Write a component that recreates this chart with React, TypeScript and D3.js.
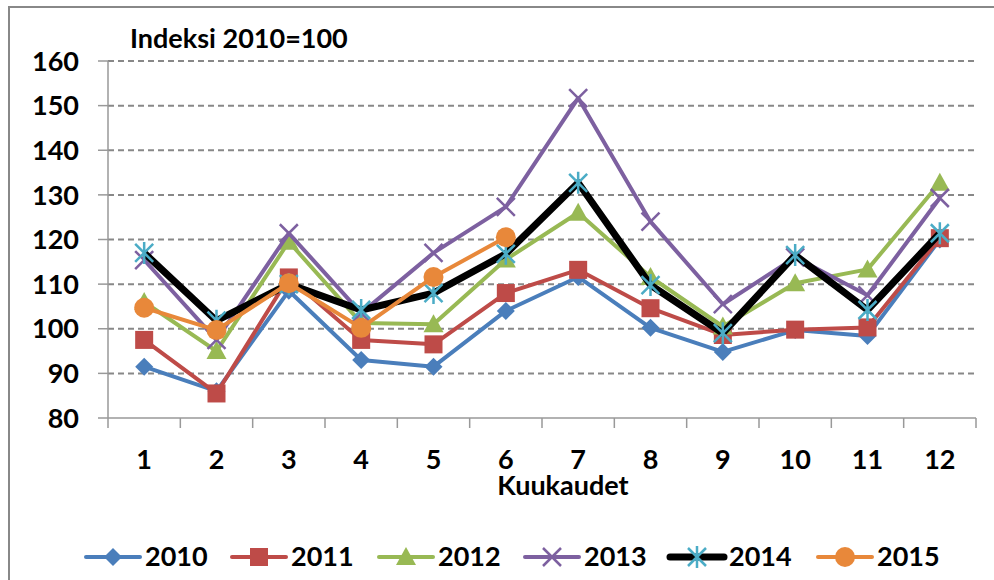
import { useEffect, useRef } from "react";
import * as d3 from "d3";

const months = ["1", "2", "3", "4", "5", "6", "7", "8", "9", "10", "11", "12"];
const yTicks = [80, 90, 100, 110, 120, 130, 140, 150, 160];

const s2010 = [91.5, 86, 108.5, 93, 91.5, 104, 111.6, 100.2, 94.8, 99.7, 98.4, 120];
const s2011 = [97.5, 85.5, 111.5, 97.5, 96.5, 108, 113.2, 104.6, 98.6, 99.8, 100.3, 120.3];
const s2012 = [106, 95, 119.5, 101.3, 101, 115.5, 126, 111.6, 100.5, 110.2, 113.3, 132.7];
const s2013 = [115.4, 97.5, 121.4, 103.5, 117, 127.3, 151.7, 124, 105.5, 116, 107.5, 129.3];
const s2014 = [117, 101.8, 110, 104.2, 108, 116.8, 132.7, 109.8, 99, 116.5, 104.2, 121.4];
const s2015 = [104.7, 99.7, 110.2, 100.2, 111.6, 120.5];

const seriesNames = ["2010", "2011", "2012", "2013", "2014", "2015"];
const seriesValues = [s2010, s2011, s2012, s2013, s2014, s2015];
const lineColors = ["#4A7EBB", "#BE4B48", "#98B954", "#7D60A0", "#000000", "#E8883A"];
const markerColors = ["#4A7EBB", "#BE4B48", "#98B954", "#7D60A0", "#4BACC6", "#E8883A"];
const markerKinds = ["diamond", "square", "triangle", "cross", "star", "circle"];

const FONT = "Lato, 'Open Sans', sans-serif";
const FS = 27;

function drawMarker(g: any, kind: string, x: number, y: number, color: string) {
  if (kind === "diamond") {
    g.append("path").attr("d", `M${x},${y - 9}L${x + 9},${y}L${x},${y + 9}L${x - 9},${y}Z`).attr("fill", color);
  } else if (kind === "square") {
    g.append("rect").attr("x", x - 9).attr("y", y - 9).attr("width", 18).attr("height", 18).attr("fill", color);
  } else if (kind === "triangle") {
    g.append("path").attr("d", `M${x},${y - 10}L${x + 10},${y + 8}L${x - 10},${y + 8}Z`).attr("fill", color);
  } else if (kind === "circle") {
    g.append("circle").attr("cx", x).attr("cy", y).attr("r", 10).attr("fill", color);
  } else if (kind === "cross") {
    g.append("path").attr("d", `M${x - 9},${y - 9}L${x + 9},${y + 9}M${x + 9},${y - 9}L${x - 9},${y + 9}`)
      .attr("stroke", color).attr("stroke-width", 2.5);
  } else if (kind === "star") {
    g.append("path")
      .attr("d", `M${x - 9},${y - 9}L${x + 9},${y + 9}M${x + 9},${y - 9}L${x - 9},${y + 9}M${x},${y - 11}L${x},${y + 11}`)
      .attr("stroke", color).attr("stroke-width", 2.5);
  }
}

export default function App() {
  const ref = useRef<SVGSVGElement | null>(null);

  useEffect(() => {
    if (!ref.current) return;
    const svg = d3.select(ref.current);
    svg.selectAll("*").remove();

    const left = 108, right = 976, top = 61, bottom = 418;
    const x = d3.scaleBand().domain(months).range([left, right]);
    const y = d3.scaleLinear().domain([80, 160]).range([bottom, top]);

    svg.append("rect").attr("width", 994).attr("height", 580).attr("fill", "#fff");
    // outer frame
    svg.append("rect").attr("x", 9).attr("y", 7).attr("width", 1100).attr("height", 700)
      .attr("fill", "none").attr("stroke", "#888").attr("stroke-width", 2);

    // gridlines
    svg.append("g").selectAll("line").data(yTicks.filter((t) => t > 80)).join("line")
      .attr("x1", left).attr("x2", right)
      .attr("y1", (d: number) => y(d)).attr("y2", (d: number) => y(d))
      .attr("stroke", "#888").attr("stroke-width", 2).attr("stroke-dasharray", "6,4");

    // y axis
    const ya = svg.append("g");
    ya.append("line").attr("x1", left).attr("x2", left).attr("y1", top).attr("y2", bottom)
      .attr("stroke", "#999").attr("stroke-width", 1.5);
    ya.selectAll("line.t").data(yTicks).join("line").attr("class", "t")
      .attr("x1", left - 10).attr("x2", left)
      .attr("y1", (d: number) => y(d)).attr("y2", (d: number) => y(d))
      .attr("stroke", "#999").attr("stroke-width", 1.5);
    ya.selectAll("text").data(yTicks).join("text")
      .attr("x", 79).attr("y", (d: number) => y(d)).attr("dy", "0.36em")
      .attr("text-anchor", "end").attr("font-family", FONT).attr("font-weight", "bold")
      .attr("font-size", FS).attr("fill", "#000").text((d: number) => d);

    // x axis
    const xa = svg.append("g");
    xa.append("line").attr("x1", left).attr("x2", right).attr("y1", bottom).attr("y2", bottom)
      .attr("stroke", "#999").attr("stroke-width", 1.5);
    const bounds = months.map((m) => x(m) as number).concat([right]);
    xa.selectAll("line.t").data(bounds).join("line").attr("class", "t")
      .attr("x1", (d: number) => d).attr("x2", (d: number) => d)
      .attr("y1", bottom).attr("y2", bottom + 10)
      .attr("stroke", "#999").attr("stroke-width", 1.5);
    xa.selectAll("text").data(months).join("text")
      .attr("x", (d: string) => (x(d) as number) + x.bandwidth() / 2).attr("y", 469)
      .attr("text-anchor", "middle").attr("font-family", FONT).attr("font-weight", "bold")
      .attr("font-size", FS).attr("fill", "#000").text((d: string) => d);

    svg.append("text").attr("x", 563).attr("y", 495).attr("text-anchor", "middle")
      .attr("font-family", FONT).attr("font-weight", "bold").attr("font-size", FS)
      .text("Kuukaudet");
    svg.append("text").attr("x", 130).attr("y", 48)
      .attr("font-family", FONT).attr("font-weight", "bold").attr("font-size", FS)
      .text("Indeksi 2010=100");

    const cx = (i: number) => (x(months[i]) as number) + x.bandwidth() / 2;
    const line = d3.line<number>().x((_d: number, i: number) => cx(i)).y((d: number) => y(d));

    seriesValues.forEach((vals, si) => {
      const g = svg.append("g");
      g.append("path").attr("d", line(vals)).attr("fill", "none")
        .attr("stroke", lineColors[si]).attr("stroke-width", si === 4 ? 7 : 4)
        .attr("stroke-linejoin", "round");
      vals.forEach((v, i) => drawMarker(g, markerKinds[si], cx(i), y(v), markerColors[si]));
    });

    // legend
    const legX = [86, 232, 379, 525, 670, 818];
    const legY = 557;
    seriesNames.forEach((name, si) => {
      const g = svg.append("g");
      const lx = legX[si];
      g.append("line").attr("x1", lx).attr("x2", lx + 54).attr("y1", legY).attr("y2", legY)
        .attr("stroke", lineColors[si]).attr("stroke-width", si === 4 ? 7 : 4).attr("stroke-linecap", "round");
      drawMarker(g, markerKinds[si], lx + 27, legY, markerColors[si]);
      g.append("text").attr("x", lx + 59).attr("y", 566)
        .attr("font-family", FONT).attr("font-weight", "bold").attr("font-size", FS).text(name);
    });
  }, []);

  return (
    <svg ref={ref} width={994} height={580}
      style={{ position: "absolute", left: 0, top: 0, display: "block" }} />
  );
}
